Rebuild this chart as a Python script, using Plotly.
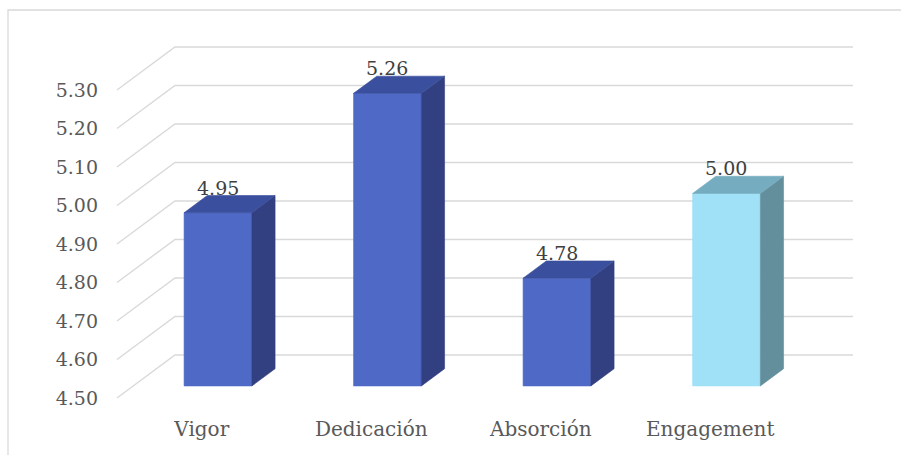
import plotly.graph_objects as go

# ---- data ----
categories = ["Vigor", "Dedicación", "Absorción", "Engagement"]
values = [4.95, 5.26, 4.78, 5.00]
value_labels = ["4.95", "5.26", "4.78", "5.00"]
tick_values = [4.50, 4.60, 4.70, 4.80, 4.90, 5.00, 5.10, 5.20, 5.30]
tick_labels = ["4.50", "4.60", "4.70", "4.80", "4.90", "5.00", "5.10", "5.20", "5.30"]
front_colors = ["#4F69C6", "#4F69C6", "#4F69C6", "#A0E1F7"]
top_colors = ["#3A4F9D", "#3A4F9D", "#3A4F9D", "#76ACC0"]
side_colors = ["#323F80", "#323F80", "#323F80", "#638E9C"]

# ---- oblique 3D projection parameters ----
AXIS_MIN = 4.50
DEPTH_X = 0.342   # category units of shift for full floor depth
DEPTH_Y = 0.1117  # value units of shift for full floor depth
D0, D1 = 0.28, 0.68  # bar front / back depth fractions
HALF_W = 0.20
N = len(categories)

GRID = "#D9D9D9"
FONT = "DejaVu Serif"

fig = go.Figure()

# gridlines: floor diagonal + back wall horizontal
for t in tick_values:
    fig.add_trace(go.Scatter(
        x=[0, DEPTH_X, N + DEPTH_X],
        y=[t, t + DEPTH_Y, t + DEPTH_Y],
        mode="lines", line=dict(color=GRID, width=1.4),
        hoverinfo="skip", showlegend=False))


def face(xs, ys, color):
    fig.add_trace(go.Scatter(
        x=xs + [xs[0]], y=ys + [ys[0]], mode="lines", fill="toself",
        fillcolor=color, line=dict(color=color, width=0.6),
        hoverinfo="skip", showlegend=False))


for i, v in enumerate(values):
    c = i + 0.5
    xl, xr = c - HALF_W, c + HALF_W
    fx0, fy0 = D0 * DEPTH_X, D0 * DEPTH_Y
    fx1, fy1 = D1 * DEPTH_X, D1 * DEPTH_Y
    # front face
    face([xl + fx0, xr + fx0, xr + fx0, xl + fx0],
         [AXIS_MIN + fy0, AXIS_MIN + fy0, v + fy0, v + fy0], front_colors[i])
    # side face
    face([xr + fx0, xr + fx1, xr + fx1, xr + fx0],
         [AXIS_MIN + fy0, AXIS_MIN + fy1, v + fy1, v + fy0], side_colors[i])
    # top face
    face([xl + fx0, xr + fx0, xr + fx1, xl + fx1],
         [v + fy0, v + fy0, v + fy1, v + fy1], top_colors[i])
    fig.add_annotation(x=c + fx0, y=v + fy1, text=value_labels[i],
                       showarrow=False, yanchor="bottom", yshift=-5,
                       font=dict(family=FONT, size=19, color="#404040"))

# outer chart frame
fig.add_shape(type="rect", xref="paper", yref="paper",
              x0=-0.11347, x1=1.2, y0=-0.2, y1=0.9759,
              line=dict(color=GRID, width=1.3), layer="below")

fig.update_layout(
    width=901, height=455,
    margin=dict(l=99, r=0, t=0, b=40),
    paper_bgcolor="white", plot_bgcolor="white",
    font=dict(family=FONT, size=19, color="#595959"),
    xaxis=dict(range=[-0.1062, 4.6254], tickvals=[i + 0.5 for i in range(N)],
               ticktext=categories, showgrid=False, zeroline=False,
               showline=False, ticks="", fixedrange=True,
               tickfont=dict(family=FONT, size=20, color="#595959")),
    yaxis=dict(range=[4.4558, 5.5338], tickvals=tick_values, ticktext=tick_labels,
               showgrid=False, zeroline=False, showline=False, ticks="",
               fixedrange=True,
               tickfont=dict(family=FONT, size=19, color="#595959")),
)

fig.write_html("out.html")
